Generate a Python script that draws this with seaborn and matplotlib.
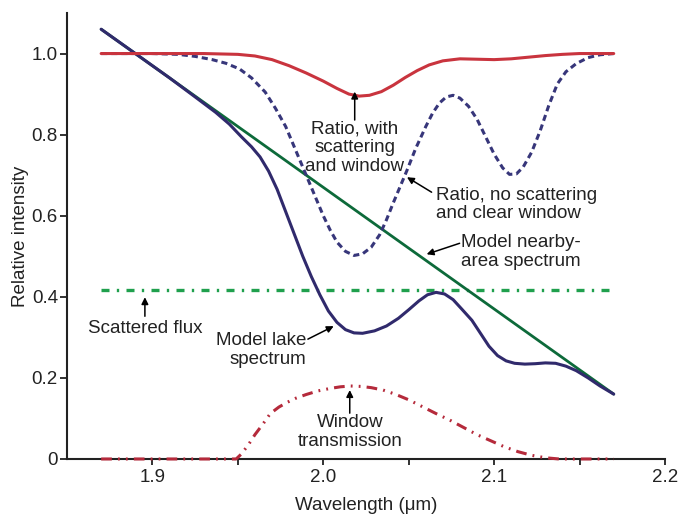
import matplotlib
matplotlib.use("Agg")
from matplotlib import pyplot as plt
import seaborn as sns

# wavelength (um) and relative intensity
ratio_win_x = [1.87, 1.93, 1.95, 1.96, 1.97, 1.98, 1.99, 2.0, 2.008, 2.015, 2.021, 2.027, 2.034, 2.041, 2.048,
               2.055, 2.062, 2.07, 2.08, 2.09, 2.1, 2.11, 2.12, 2.13, 2.14, 2.15, 2.17]
ratio_win_y = [1.0, 1.0, 0.998, 0.994, 0.985, 0.97, 0.952, 0.932, 0.914, 0.9, 0.895, 0.897, 0.906, 0.922, 0.941,
               0.958, 0.972, 0.982, 0.987, 0.986, 0.985, 0.987, 0.991, 0.995, 0.998, 1.0, 1.0]

ratio_clear_x = [1.87, 1.90, 1.915, 1.925, 1.935, 1.943, 1.951, 1.958, 1.966, 1.972, 1.978, 1.984, 1.99, 1.995,
                 2.0, 2.004, 2.008, 2.013, 2.018, 2.023, 2.028, 2.033, 2.037, 2.041, 2.045, 2.049, 2.054, 2.06,
                 2.064, 2.068, 2.072, 2.076, 2.08, 2.085, 2.09, 2.095, 2.10, 2.105, 2.109, 2.113, 2.117, 2.122,
                 2.127, 2.132, 2.137, 2.142, 2.148, 2.155, 2.162, 2.17]
ratio_clear_y = [1.0, 1.0, 0.998, 0.993, 0.985, 0.976, 0.962, 0.94, 0.905, 0.865, 0.82, 0.76, 0.70, 0.65,
                 0.60, 0.565, 0.535, 0.512, 0.502, 0.506, 0.522, 0.553, 0.59, 0.632, 0.672, 0.712, 0.765, 0.82,
                 0.853, 0.878, 0.893, 0.897, 0.89, 0.87, 0.838, 0.795, 0.752, 0.718, 0.702, 0.703, 0.72, 0.757,
                 0.81, 0.872, 0.925, 0.955, 0.975, 0.99, 0.997, 1.0]

lake_x = [1.87, 1.89, 1.91, 1.925, 1.937, 1.945, 1.952, 1.958, 1.963, 1.968, 1.973, 1.978, 1.983, 1.988,
          1.993, 1.998, 2.003, 2.008, 2.013, 2.018, 2.023, 2.03, 2.037, 2.044, 2.05, 2.056, 2.061, 2.066,
          2.071, 2.076, 2.081, 2.087, 2.092, 2.097, 2.102, 2.107, 2.112, 2.118, 2.124, 2.13, 2.136, 2.142,
          2.148, 2.155, 2.162, 2.17]
lake_y = [1.06, 1.0, 0.94, 0.893, 0.855, 0.826, 0.795, 0.77, 0.745, 0.71, 0.665, 0.61, 0.555, 0.5,
          0.45, 0.405, 0.365, 0.337, 0.319, 0.311, 0.31, 0.316, 0.328, 0.347, 0.368, 0.39, 0.405, 0.411,
          0.407, 0.393, 0.37, 0.342, 0.31, 0.278, 0.255, 0.242, 0.236, 0.234, 0.235, 0.237, 0.236, 0.229,
          0.218, 0.2, 0.18, 0.16]

nearby_x = [1.87, 2.17]
nearby_y = [1.06, 0.16]

scatter_x = [1.87, 2.17]
scatter_y = [0.416, 0.416]

window_x = [1.87, 1.949, 1.952, 1.956, 1.96, 1.965, 1.969, 1.974, 1.979, 1.984, 1.99, 1.997, 2.004, 2.01,
            2.016, 2.022, 2.028, 2.035, 2.042, 2.05, 2.058, 2.066, 2.074, 2.082, 2.09, 2.098, 2.106, 2.114,
            2.122, 2.13, 2.138, 2.17]
window_y = [0.0, 0.0, 0.012, 0.034, 0.06, 0.088, 0.112, 0.128, 0.14, 0.15, 0.159, 0.168, 0.174, 0.178,
            0.18, 0.179, 0.176, 0.17, 0.16, 0.146, 0.129, 0.112, 0.096, 0.078, 0.06, 0.045, 0.03, 0.018,
            0.009, 0.003, 0.0, 0.0]

xticks = [1.9, 2.0, 2.1, 2.2]
xminor = [1.95, 2.05, 2.15]
yticks = [0, 0.2, 0.4, 0.6, 0.8, 1.0]
ylabels = ["0", "0.2", "0.4", "0.6", "0.8", "1.0"]

sns.set_theme(style="ticks")
plt.rcParams['font.family'] = ['Liberation Sans', 'DejaVu Sans']
ink = '#222222'

fig = plt.figure(figsize=(6.78, 5.16), dpi=100)
ax = fig.add_axes([0.0988, 0.1105, 0.8820, 0.8643])

sns.lineplot(x=window_x, y=window_y, ax=ax, color='#b52a3b', lw=2.2, zorder=3, clip_on=False,
             linestyle=(0, (3.5, 2.0, 0.6, 2.0, 0.6, 2.0)), sort=False)
sns.lineplot(x=scatter_x, y=scatter_y, ax=ax, color='#1fa04d', lw=2.4,
             linestyle=(0, (2.4, 2.2, 0.7, 2.2)), sort=False)
sns.lineplot(x=nearby_x, y=nearby_y, ax=ax, color='#0d6a3a', lw=2.0, sort=False)
sns.lineplot(x=ratio_clear_x, y=ratio_clear_y, ax=ax, color='#37367a', lw=2.2,
             linestyle=(0, (2.0, 1.3)), sort=False)
sns.lineplot(x=lake_x, y=lake_y, ax=ax, color='#302a6c', lw=2.2, sort=False)
sns.lineplot(x=ratio_win_x, y=ratio_win_y, ax=ax, color='#c9343e', lw=2.2, sort=False)

ax.set_xlim(1.85, 2.2)
ax.set_ylim(0, 1.1)
ax.set_xticks(xticks)
ax.set_xticklabels([str(t) for t in xticks])
ax.set_xticks(xminor, minor=True)
ax.set_yticks(yticks)
ax.set_yticklabels(ylabels)
sns.despine(ax=ax)
for s in ['left', 'bottom']:
    ax.spines[s].set_linewidth(1.5)
    ax.spines[s].set_color(ink)
ax.tick_params(axis='both', which='both', direction='out', length=5, width=1.3,
               color=ink, labelcolor=ink, labelsize=13.5, pad=1.5)
ax.tick_params(axis='x', which='both', length=4, pad=3)

ax.set_xlabel('Wavelength (μm)', fontsize=13.5, color=ink, labelpad=8)
ax.set_ylabel('Relative intensity', fontsize=13.5, color=ink, labelpad=2)

fs = 13.5
arrow = dict(arrowstyle='-|>', color='black', lw=1.1, mutation_scale=10, shrinkA=0, shrinkB=0)

def note(txt, tx, ty, tail, tip, ha='center'):
    ax.text(tx, ty, txt, fontsize=fs, color=ink, ha=ha, va='top', linespacing=1.12,
            multialignment=ha)
    ax.annotate('', xy=tip, xytext=tail, arrowprops=arrow)

note('Ratio, with\nscattering\nand window', 2.0184, 0.834, (2.0184, 0.836), (2.0184, 0.906))
note('Ratio, no scattering\nand clear window', 2.0658, 0.671, (2.0634, 0.658), (2.049, 0.695), ha='left')
note('Model nearby-\narea spectrum', 2.0808, 0.555, (2.0798, 0.532), (2.0605, 0.505), ha='left')
note('Scattered flux', 1.8956, 0.343, (1.8956, 0.352), (1.8956, 0.399))
note('Model lake\nspectrum', 1.99, 0.313, (1.991, 0.2956), (2.0061, 0.3276), ha='right')
note('Window\ntransmission', 2.0155, 0.11, (2.0155, 0.113), (2.0155, 0.17))

fig.savefig('out.png', dpi=100)
